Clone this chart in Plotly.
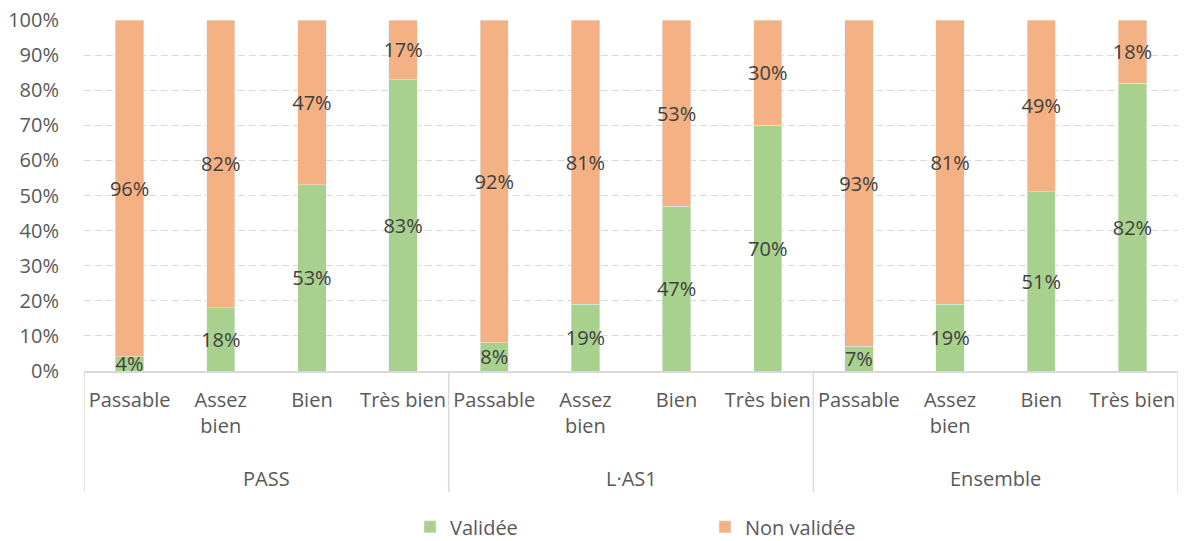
import plotly.graph_objects as go

groups = ["PASS", "L·AS1", "Ensemble"]
mentions = ["Passable", "Assez<br>bien", "Bien", "Très bien"]
validee = [4, 18, 53, 83, 8, 19, 47, 70, 7, 19, 51, 82]
non_validee = [96, 82, 47, 17, 92, 81, 53, 30, 93, 81, 49, 18]
y_ticks = list(range(0, 101, 10))

n = len(validee)
xpos = list(range(n))
tick_text = mentions * len(groups)

GREEN = "#A9D18E"
ORANGE = "#F4B183"
FONT = "Open Sans"
FS = 20

fig = go.Figure()
fig.add_trace(go.Bar(x=xpos, y=validee, name="Validée", marker_color=GREEN,
                     width=0.31, text=[f"{v}%" for v in validee],
                     textposition="inside", insidetextanchor="middle", textangle=0,
                     textfont=dict(color="#404040", size=FS, family=FONT)))
fig.add_trace(go.Bar(x=xpos, y=non_validee, name="Non validée", marker_color=ORANGE,
                     width=0.31, text=[f"{v}%" for v in non_validee],
                     textposition="inside", insidetextanchor="middle", textangle=0,
                     textfont=dict(color="#404040", size=FS, family=FONT)))

per = len(mentions)
for gi, g in enumerate(groups):
    center = gi * per + (per - 1) / 2
    fig.add_annotation(x=center, xref="x", y=-0.305, yref="paper", text=g,
                       showarrow=False, yanchor="middle",
                       font=dict(size=FS, color="#595959", family=FONT))
for b in range(len(groups) + 1):
    xb = b * per - 0.5
    fig.add_shape(type="line", x0=xb, x1=xb, xref="x", y0=0, y1=-0.345, yref="paper",
                  line=dict(color="#D9D9D9", width=1.5))

fig.update_layout(
    barmode="stack",
    width=1187, height=541,
    margin=dict(l=84, r=9, t=20, b=170, autoexpand=False),
    plot_bgcolor="white", paper_bgcolor="white",
    font=dict(family=FONT, size=FS, color="#595959"),
    uniformtext=dict(mode="show", minsize=FS),
    legend=dict(orientation="h", x=0.298, xanchor="left", yref="paper", y=-0.444,
                yanchor="middle", entrywidth=250, entrywidthmode="pixels", itemwidth=30,
                font=dict(size=FS, color="#595959", family=FONT), traceorder="normal"),
    showlegend=True,
)
fig.update_xaxes(range=[-0.5, n - 0.5], tickvals=xpos, ticktext=tick_text,
                 showgrid=False, zeroline=False, showline=True, linecolor="#D9D9D9",
                 linewidth=1.5, ticks="outside", ticklen=10, tickcolor="rgba(0,0,0,0)",
                 tickangle=0, tickfont=dict(size=FS, color="#595959", family=FONT))
fig.update_yaxes(range=[0, 100], tickvals=y_ticks, ticktext=[f"{v}%" for v in y_ticks],
                 showgrid=True, gridcolor="#D9D9D9", griddash="7px,4px", gridwidth=1.2,
                 zeroline=False, ticks="outside", ticklen=20, tickcolor="rgba(0,0,0,0)",
                 tickfont=dict(size=FS, color="#595959", family=FONT))

fig.write_html("out.html", config={"displayModeBar": False},
               post_script="document.body.style.margin='0px';")
